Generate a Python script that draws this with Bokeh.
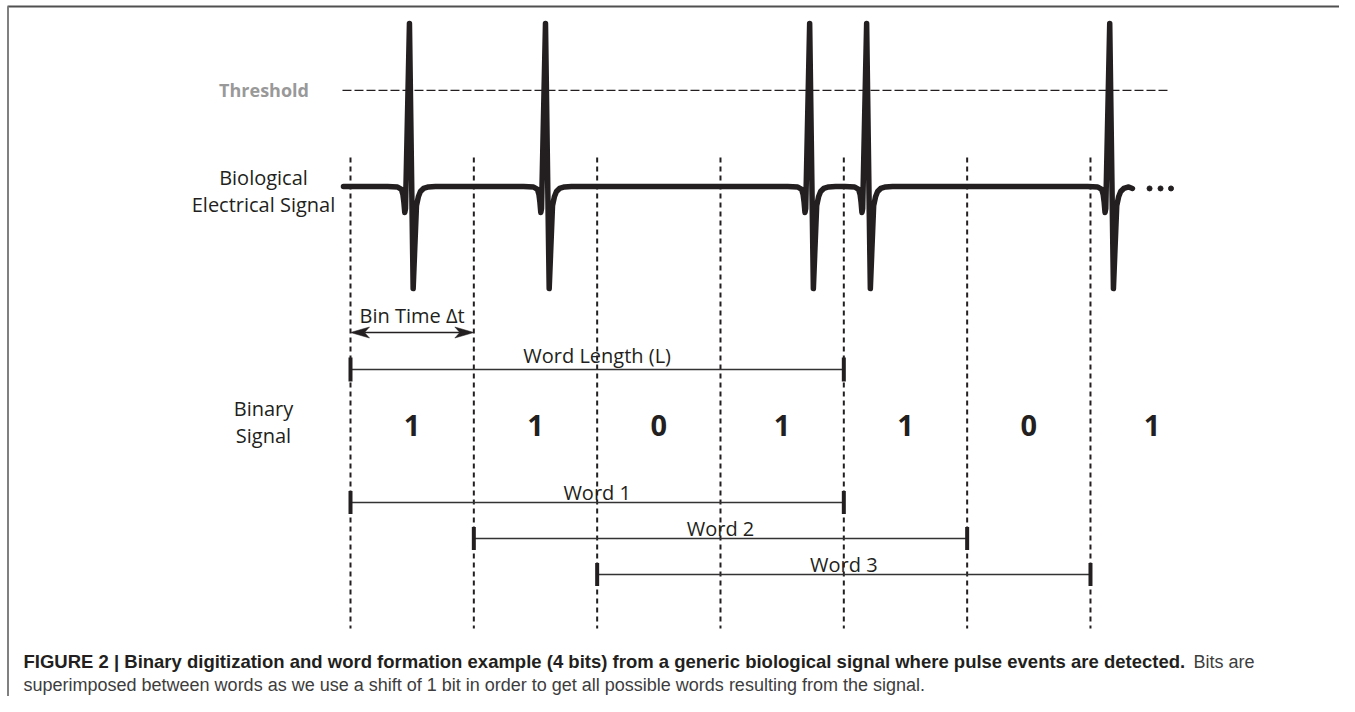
from bokeh.plotting import figure
from bokeh.models import Range1d
from bokeh.core.properties import value
from bokeh.embed import file_html
from bokeh.resources import INLINE

# ---------------- data (time in units of the bin time Δt) ----------------
BITS = [1, 1, 0, 1, 1, 0, 1]
BIN_EDGES = [0, 1, 2, 3, 4, 5, 6]
SPIKE_TIMES = [0.478, 1.581, 3.723, 4.185, 6.156]
SIGNAL_START = -0.057
SIGNAL_END = 6.34
BASELINE = 0.0
THRESHOLD = 0.59
THRESHOLD_SPAN = [-0.065, 6.633]
# generic spike waveform: time offset from peak (Δt) and amplitude (peak = 1)
SPIKE_DT = [-0.178, -0.097, -0.065, -0.053, -0.045, -0.038, -0.032, 0.0,
            0.030, 0.057, 0.073, 0.089, 0.114, 0.154, 0.211]
SPIKE_AMP = [0.0, -0.003, -0.018, -0.049, -0.098, -0.160, -0.135, 1.0,
             -0.626, -0.117, -0.061, -0.031, -0.012, -0.003, 0.0]
ELLIPSIS_T = [6.479, 6.568, 6.653]
WORD_LENGTH = 4
WORD_STARTS = [0, 1, 2]
WORD_NAMES = ["Word 1", "Word 2", "Word 3"]

CAPTION_BOLD = ("FIGURE 2 | Binary digitization and word formation example (4 bits) "
                "from a generic biological signal where pulse events are detected.")
CAPTION_REG1 = "Bits are"
CAPTION_REG2 = ("superimposed between words as we use a shift of 1 bit in order to get "
                "all possible words resulting from the signal.")

# ---------------- layout ----------------
W, H = 1339, 696
X0, BIN_W = 350.0, 123.33    # px of first bin edge, px per bin
SIG_Y0, SIG_SCALE = 186.0, 163.0


def px2t(px):
    return (px - X0) / BIN_W


INK = "#231f20"
FONT = value("Open Sans")
CAP_FONT = value("Liberation Sans")

p = figure(width=W, height=H, output_backend="svg", toolbar_location=None,
           x_range=Range1d(px2t(0), px2t(W)),
           y_range=Range1d(H, 0),
           x_axis_type=None, y_axis_type=None, min_border=0,
           outline_line_color=None, background_fill_color="white",
           border_fill_color="white")
p.extra_y_ranges = {"sig": Range1d((SIG_Y0 - H) / SIG_SCALE, SIG_Y0 / SIG_SCALE)}

# frame lines (top and left)
p.segment(x0=[px2t(7)], y0=[6], x1=[px2t(W)], y1=[6],
          line_color="#505050", line_width=2)
p.segment(x0=[px2t(7.5)], y0=[6], x1=[px2t(7.5)], y1=[H],
          line_color="#808080", line_width=2)

# bin boundaries
p.segment(x0=BIN_EDGES, x1=BIN_EDGES, y0=[157] * len(BIN_EDGES),
          y1=[628] * len(BIN_EDGES), line_color=INK, line_width=2,
          line_dash="5 4")

# threshold
p.segment(x0=[THRESHOLD_SPAN[0]], x1=[THRESHOLD_SPAN[1]], y0=[THRESHOLD],
          y1=[THRESHOLD], y_range_name="sig", line_color=INK,
          line_width=1.2, line_dash="9 3")

# biological signal
sig_t, sig_v = [SIGNAL_START], [BASELINE]
for ts in SPIKE_TIMES:
    for dt, a in zip(SPIKE_DT, SPIKE_AMP):
        if ts + dt <= SIGNAL_END:
            sig_t.append(ts + dt)
            sig_v.append(BASELINE + a)
sig_t.append(SIGNAL_END)
sig_v.append(BASELINE - 0.012)
p.line(sig_t, sig_v, y_range_name="sig", line_color=INK, line_width=5.5,
       line_join="round", line_cap="round")
p.scatter(ELLIPSIS_T, [BASELINE - 0.012] * 3, y_range_name="sig", size=5,
          color=INK)

# left labels (y = visual centre of the text)
p.text(x=[px2t(263.5)], y=[89.5], text=["Threshold"], text_font=FONT,
       text_font_size="18px", text_font_style="bold", text_color="#999999",
       text_align="center", text_baseline="alphabetic")
p.text(x=[px2t(263)] * 4, y=[176.5, 204, 408, 435],
       text=["Biological", "Electrical Signal", "Binary", "Signal"],
       text_font=FONT, text_font_size="20px", text_color=INK,
       text_align="center", text_baseline="alphabetic")

# bin time double arrow
ARROW_Y = 332
HEAD_L, HEAD_N, HEAD_HW = 19 / BIN_W, 14 / BIN_W, 5.5
a0, a1 = BIN_EDGES[0], BIN_EDGES[1]
p.segment(x0=[a0 + HEAD_N], x1=[a1 - HEAD_N], y0=[ARROW_Y], y1=[ARROW_Y],
          line_color=INK, line_width=1.6)
p.patches(xs=[[a0, a0 + HEAD_L, a0 + HEAD_N, a0 + HEAD_L],
              [a1, a1 - HEAD_L, a1 - HEAD_N, a1 - HEAD_L]],
          ys=[[ARROW_Y, ARROW_Y - HEAD_HW, ARROW_Y, ARROW_Y + HEAD_HW]] * 2,
          fill_color=INK, line_color=INK, line_width=0.5)
p.text(x=[(a0 + a1) / 2], y=[315], text=["Bin Time Δt"],
       text_font=FONT, text_font_size="20px", text_color=INK,
       text_align="center", text_baseline="alphabetic")

# word-length and word bars
bars_x0 = [0] + WORD_STARTS
bars_x1 = [WORD_LENGTH] + [s + WORD_LENGTH for s in WORD_STARTS]
bars_y = [369, 502, 538, 574]
bars_txt = ["Word Length (L)"] + WORD_NAMES
bars_txt_y = [354.5, 492, 528, 564]
cap_half = [12, 11.5, 11.5, 11.5]
p.segment(x0=bars_x0, x1=bars_x1, y0=bars_y, y1=bars_y,
          line_color="#333333", line_width=1.6)
p.segment(x0=bars_x0 + bars_x1, x1=bars_x0 + bars_x1,
          y0=[y - h for y, h in zip(bars_y, cap_half)] * 2,
          y1=[y + h for y, h in zip(bars_y, cap_half)] * 2,
          line_color=INK, line_width=4)
p.text(x=[(a + b) / 2 for a, b in zip(bars_x0, bars_x1)], y=bars_txt_y,
       text=bars_txt, text_font=FONT, text_font_size="20px", text_color=INK,
       text_align="center", text_baseline="alphabetic")

# binary digits
p.text(x=[e + 0.5 for e in BIN_EDGES], y=[424.5] * len(BITS),
       text=[str(b) for b in BITS], text_font=FONT, text_font_size="29px",
       text_font_style="bold", text_color=INK, text_align="center",
       text_baseline="alphabetic")

# caption
p.text(x=[px2t(23)], y=[661], text=[CAPTION_BOLD], text_font=CAP_FONT,
       text_font_size="18.5px", text_font_style="bold", text_color=INK,
       text_align="left", text_baseline="alphabetic")
p.text(x=[px2t(1193), px2t(23)], y=[661, 684], text=[CAPTION_REG1, CAPTION_REG2],
       text_font=CAP_FONT, text_font_size="18px", text_color="#3d3d3d",
       text_align="left", text_baseline="alphabetic")

open("out.html", "w").write(file_html(p, INLINE))
